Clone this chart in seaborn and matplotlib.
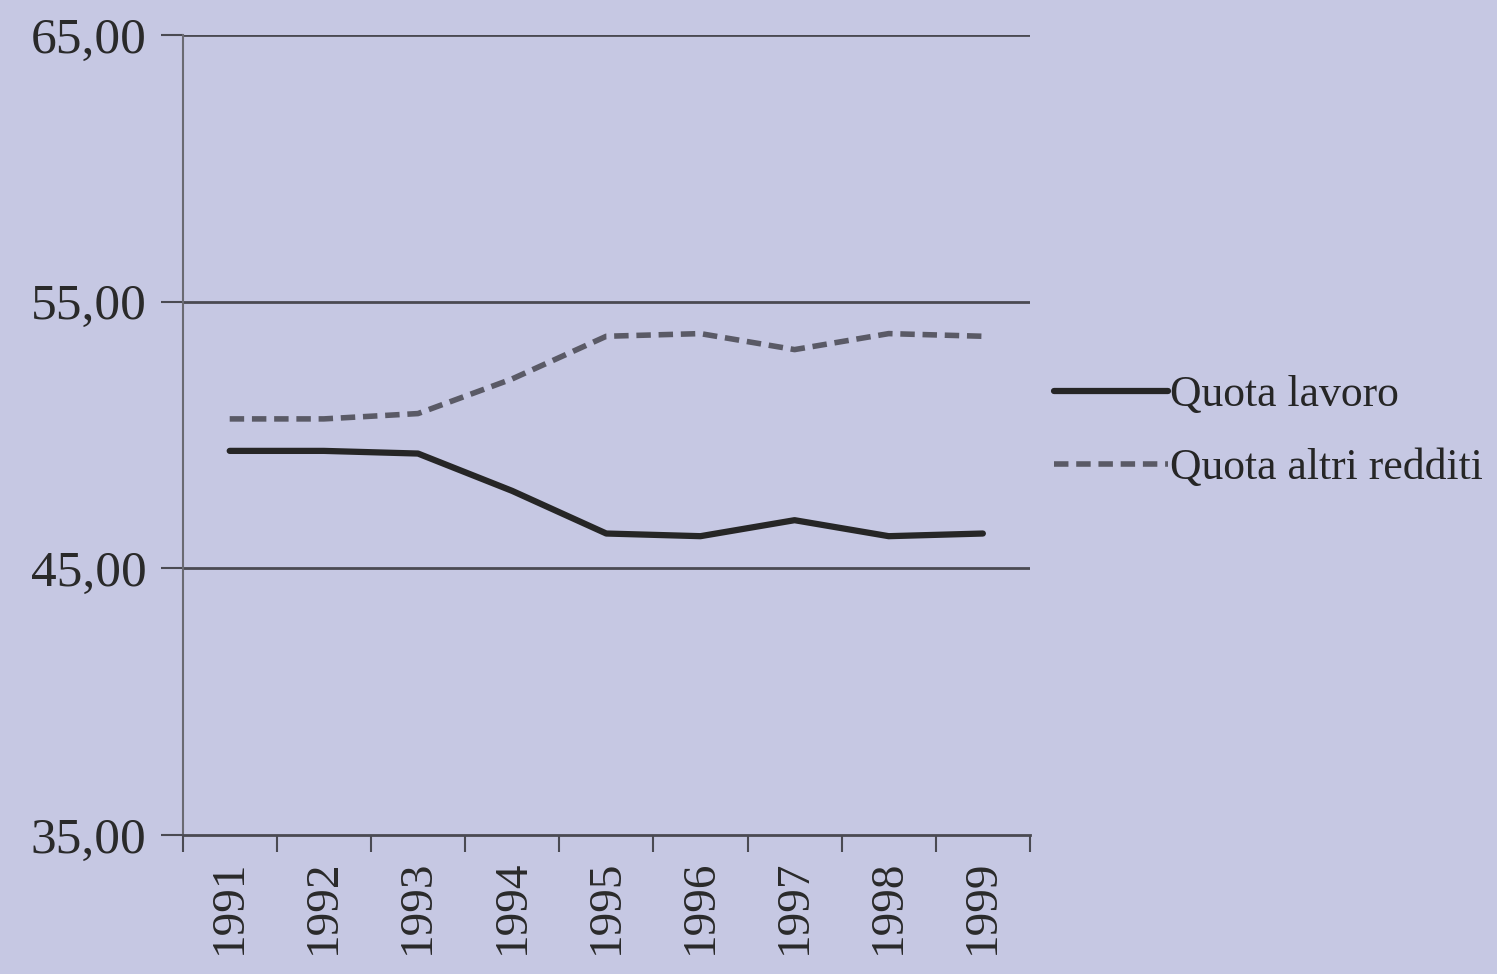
import pandas as pd
import matplotlib.pyplot as plt
import seaborn as sns
import numpy as np

# dati
anni = ["1991", "1992", "1993", "1994", "1995", "1996", "1997", "1998", "1999"]
quota_lavoro = [49.4, 49.4, 49.3, 47.9, 46.3, 46.2, 46.8, 46.2, 46.3]
quota_altri = [50.6, 50.6, 50.8, 52.1, 53.7, 53.8, 53.2, 53.8, 53.7]
y_ticks = [35, 45, 55, 65]

df = pd.DataFrame({"anno": anni, "Quota lavoro": quota_lavoro, "Quota altri redditi": quota_altri})

sns.set_style("ticks")
plt.rcParams['font.family'] = ['Liberation Serif', 'DejaVu Serif']

bg = "#c6c8e3"
fig = plt.figure(figsize=(14.97, 9.74), dpi=100, facecolor=bg)
ax = fig.add_axes([0.122, 0.143, 0.566, 0.821])
ax.set_facecolor(bg)

sns.lineplot(data=df, x="anno", y="Quota lavoro", ax=ax, color="#262626",
             linewidth=4.5, label="Quota lavoro")
sns.lineplot(data=df, x="anno", y="Quota altri redditi", ax=ax, color="#5a5a66",
             linewidth=4, label="Quota altri redditi")
ax.lines[1].set_dashes((2.6, 1.4))

ax.set_ylim(35, 65)
ax.set_xlim(-0.5, len(anni) - 0.5)
ax.set_yticks(y_ticks)
ax.set_yticklabels([f"{v:.2f}".replace(".", ",") for v in y_ticks], fontsize=37, color="#2a2a2a")
for v in y_ticks[1:]:
    ax.axhline(v, color="#4a4a52", linewidth=2, zorder=0)

ax.set_xticks(range(len(anni)))
ax.set_xticklabels(anni, rotation=90, fontsize=34, color="#2a2a2a")
ax.set_xticks(np.arange(-0.5, len(anni)), minor=True)
ax.tick_params(axis="x", which="major", bottom=True, length=0, pad=18)
ax.tick_params(axis="x", which="minor", bottom=True, length=12, width=1.5, color="#4a4a52", direction="out")
ax.tick_params(axis="y", which="major", left=True, length=16, width=1.5, color="#4a4a52", pad=10, direction="out")

ax.set_xlabel("")
ax.set_ylabel("")
sns.despine(ax=ax, top=True, right=True)
ax.spines["left"].set_color("#6a6a72")
ax.spines["left"].set_linewidth(1.5)
ax.spines["bottom"].set_color("#4a4a52")
ax.spines["bottom"].set_linewidth(2)

ax.legend(loc="center left", bbox_to_anchor=(1.0, 0.504), frameon=False, fontsize=31.5,
          handlelength=2.6, handletextpad=0.05, labelspacing=0.75, borderaxespad=0.15)

plt.savefig("out.png", dpi=100, facecolor=bg)
